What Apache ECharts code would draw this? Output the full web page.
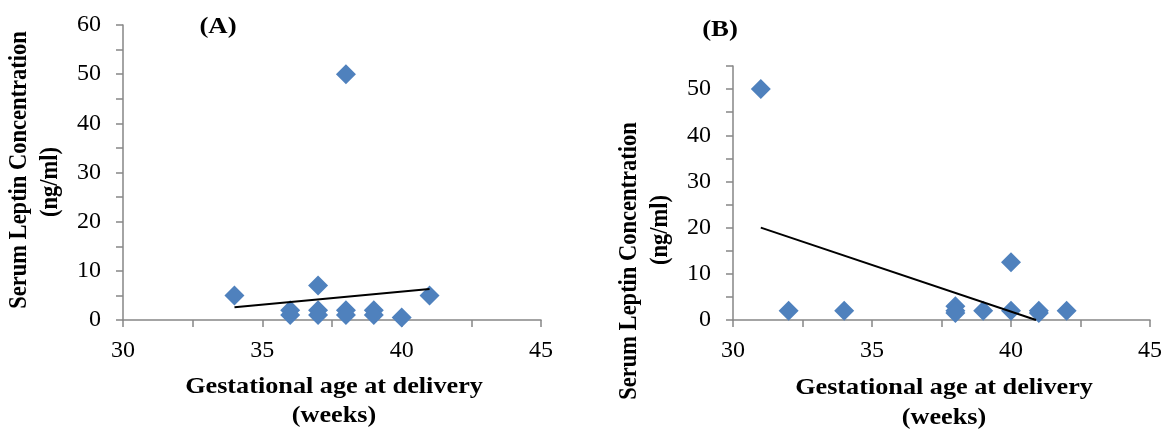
<!DOCTYPE html>
<html><head><meta charset="utf-8">
<script src="https://cdn.jsdelivr.net/npm/echarts@6/dist/echarts.min.js"></script>
<style>html,body{margin:0;padding:0;background:#fff}#c{width:1165px;height:433px}</style>
</head><body><div id="c"></div>
<script>
// Panel A data: gestational age (weeks), leptin (ng/ml)
const ageA = [34, 36, 36, 37, 37, 37, 38, 38, 38, 39, 39, 40, 41];
const leptinA = [5, 2, 1, 7, 2, 1, 2, 1, 50, 2, 1, 0.5, 5];
const trendAx = [34, 41];
const trendAy = [2.6, 6.3];
// Panel B data
const ageB = [31, 32, 34, 38, 38, 38, 39, 40, 40, 41, 41, 42];
const leptinB = [50, 2, 2, 3, 2, 1.5, 2, 12.5, 2, 2, 1.5, 2];
const trendBx = [31, 40.9];
const trendBy = [20, 0];
const xTicks = [30, 35, 40, 45];
const yTicks = [0, 10, 20, 30, 40, 50, 60];

const FONT = '"Liberation Serif", "Times New Roman", serif';
const AX = '#868686';
const BLUE = '#4F81BD';
const SX = 1.165;
const zip = (a, b) => a.map((v, i) => [v, b[i]]);

function xAxis(gi) {
  return {
    type: 'value', gridIndex: gi, min: 30, max: 45, interval: 2.5,
    axisLine: {show: true, lineStyle: {color: AX, width: 1.5}},
    axisTick: {show: true, length: 7, lineStyle: {color: AX, width: 1.5}},
    splitLine: {show: false},
    axisLabel: {
      margin: 19, color: '#000', fontFamily: FONT, fontSize: 24,
      formatter: v => xTicks.includes(v) ? String(v) : ''
    }
  };
}
function yAxis(gi, max) {
  return {
    type: 'value', gridIndex: gi, min: 0, max: max, interval: 5,
    axisLine: {show: true, lineStyle: {color: AX, width: 1.5}},
    axisTick: {show: true, length: 7, lineStyle: {color: AX, width: 1.5}},
    splitLine: {show: false},
    axisLabel: {
      margin: 22, color: '#000', fontFamily: FONT, fontSize: 24,
      formatter: v => yTicks.includes(v) ? String(v) : ''
    }
  };
}
function scatter(i, data) {
  return {
    type: 'scatter', xAxisIndex: i, yAxisIndex: i, data: data,
    symbol: 'diamond', symbolSize: [20, 20],
    itemStyle: {color: BLUE, opacity: 1}, z: 3
  };
}
function trend(i, data) {
  return {
    type: 'line', xAxisIndex: i, yAxisIndex: i, data: data,
    showSymbol: false, symbol: 'none',
    lineStyle: {color: '#000', width: 2}, z: 4, silent: true
  };
}
const bold = (x, y, text, size, rot) => ({
  type: 'text', x: x, y: y, rotation: rot || 0,
  scaleX: rot ? 1 : SX, scaleY: rot ? SX : 1,
  style: {text: text, font: 'bold ' + size + 'px ' + FONT, fill: '#000',
    textAlign: 'center', textVerticalAlign: 'middle'}
});

const chart = echarts.init(document.getElementById('c'));
chart.setOption({
  animation: false,
  backgroundColor: '#fff',
  grid: [
    {left: 123, top: 25, width: 418, height: 295},
    {left: 733, top: 66, width: 419, height: 254}
  ],
  xAxis: [xAxis(0), xAxis(1)],
  yAxis: [yAxis(0, 60), yAxis(1, 55)],
  series: [
    scatter(0, zip(ageA, leptinA)),
    trend(0, zip(trendAx, trendAy)),
    scatter(1, zip(ageB, leptinB)),
    trend(1, zip(trendBx, trendBy))
  ],
  graphic: [
    bold(218, 27, '(A)', 23),
    bold(720, 30, '(B)', 23),
    bold(334, 387, 'Gestational age at delivery', 22.5),
    bold(334, 416, '(weeks)', 22.5),
    bold(944, 388, 'Gestational age at delivery', 22.5),
    bold(944, 418, '(weeks)', 22.5),
    bold(19, 170, 'Serum Leptin Concentration', 22.5, Math.PI / 2),
    bold(50, 182, '(ng/ml)', 22.5, Math.PI / 2),
    bold(629, 261, 'Serum Leptin Concentration', 22.5, Math.PI / 2),
    bold(660, 230, '(ng/ml)', 22.5, Math.PI / 2)
  ]
});
</script></body></html>
